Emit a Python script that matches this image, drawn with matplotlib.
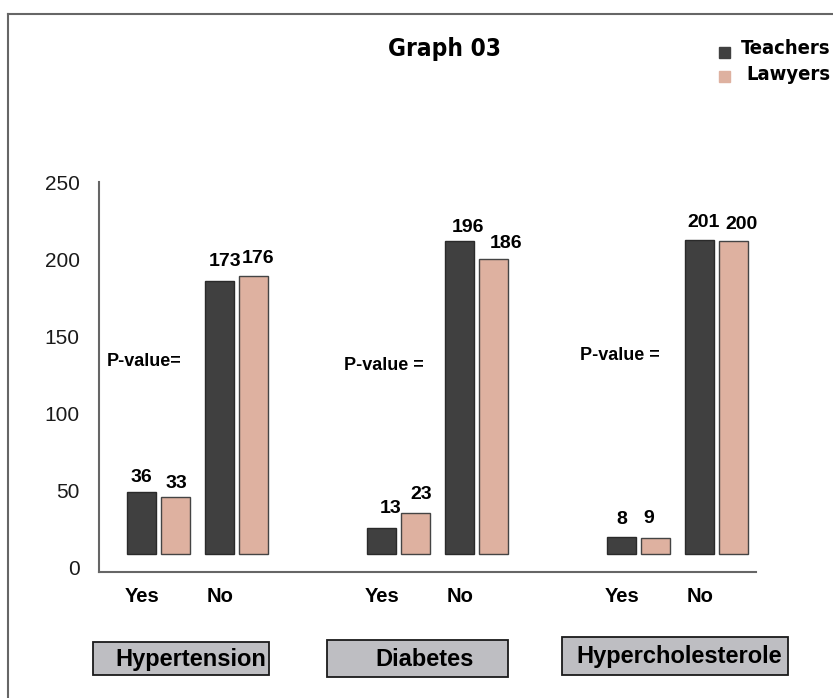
import matplotlib
matplotlib.use('Agg')
import matplotlib.pyplot as plt
from matplotlib.patches import Rectangle
from matplotlib.lines import Line2D
import numpy as np

W, H = 833, 698

groups = ['Hypertension', 'Diabetes', 'Hypercholesterole']
answers = ['Yes', 'No']
series = ['Teachers', 'Lawyers']
# order: Hyp yes, Hyp no, Dia yes, Dia no, Chol yes, Chol no
teachers_labels = [36, 173, 13, 196, 8, 201]
lawyers_labels = [33, 176, 23, 186, 9, 200]
# bar tops as they are drawn in the picture (bars start a bit above 0)
teachers_tops = [48.9, 186.2, 25.4, 212.2, 19.6, 212.9]
lawyers_tops = [45.6, 189.4, 35.2, 200.5, 18.9, 212.2]
bar_base = 8.5
p_values = ['P-value=', 'P-value =', 'P-value =']

col_teach = '#404040'
col_law = '#deb1a0'
plt.rcParams['font.family'] = ['Liberation Sans', 'DejaVu Sans']
# condensed face for title and legend
narrow = dict(family='DejaVu Sans', fontstretch='condensed', fontweight='bold')


def fx(x):
    return x / W


def fy(y):
    return 1 - y / H


fig = plt.figure(figsize=(W / 100, H / 100), dpi=100)
ax = fig.add_axes([fx(99), fy(572), fx(756) - fx(99), fy(182) - fy(572)])

# bar positions: 3 groups, Yes/No slot in each, pair of bars per slot
slots = np.array([[g - 0.1625, g + 0.1625] for g in range(len(groups))]).ravel()
x_t = slots - 0.0695
x_l = slots + 0.0695
bw = 0.121

h_t = np.array(teachers_tops) - bar_base
h_l = np.array(lawyers_tops) - bar_base
ax.bar(x_t, h_t, bw, bottom=bar_base, color=col_teach, edgecolor='#2a2a2a', linewidth=1)
ax.bar(x_l, h_l, bw, bottom=bar_base, color=col_law, edgecolor='#444444', linewidth=1)

# value labels, nudged like the original
dx_t = [0, 5.5, 9, 8.5, 0, 4]
dy_t = [14, 19, 20, 14, 17, 17]
dx_l = [1.5, 5, 6.5, 12.5, -6.5, 8]
dy_l = [14, 18, 18, 15, 20, 17]
for i in range(len(slots)):
    ax.annotate(str(teachers_labels[i]), (x_t[i], teachers_tops[i]),
                xytext=(dx_t[i], dy_t[i]), textcoords='offset pixels',
                ha='center', va='center', fontsize=14, fontweight='bold')
    ax.annotate(str(lawyers_labels[i]), (x_l[i], lawyers_tops[i]),
                xytext=(dx_l[i], dy_l[i]), textcoords='offset pixels',
                ha='center', va='center', fontsize=14, fontweight='bold')

# Yes / No under the teacher bars
for i, x in enumerate(x_t):
    ax.text(x, -0.064, answers[i % 2], transform=ax.get_xaxis_transform(),
            ha='center', va='center', fontsize=14.5, fontweight='bold')

ax.set_xlim(-0.41, 2.327)
ax.set_ylim(-3.2, 250.6)
ax.set_yticks([0, 50, 100, 150, 200, 250])
ax.set_xticks([])
ax.tick_params(axis='y', length=0, pad=14, labelsize=15, labelcolor='#1a1a1a')
for s in ['top', 'right']:
    ax.spines[s].set_visible(False)
for s in ['left', 'bottom']:
    ax.spines[s].set_color('#666666')
    ax.spines[s].set_linewidth(1.5)

# P-value notes
p_pos = [(107, 362), (344, 366), (580, 356)]
for txt, (px, py) in zip(p_values, p_pos):
    fig.text(fx(px), fy(py), txt, ha='left', va='center', fontsize=13, fontweight='bold')

# title
fig.text(fx(445), fy(49), 'Graph 03', ha='center', va='center', fontsize=17.5, **narrow)

# legend drawn by hand
leg_sq = [(719, 47), (719, 71)]
leg_txt = [(741, 49), (746, 75)]
for name, c, (sx, sy), (tx, ty) in zip(series, [col_teach, col_law], leg_sq, leg_txt):
    fig.patches.append(Rectangle((fx(sx), fy(sy + 11)), 11 / W, 11 / H, color=c,
                                 transform=fig.transFigure))
    fig.text(fx(tx), fy(ty), name, ha='left', va='center', fontsize=14.5, **narrow)

# category boxes under the groups
boxes = [(93, 642, 269, 675), (327, 640, 508, 677), (562, 637, 788, 675)]
text_x = [115, 375, 576]
for name, (x0, y0, x1, y1), tx in zip(groups, boxes, text_x):
    fig.patches.append(Rectangle((fx(x0), fy(y1)), (x1 - x0) / W, (y1 - y0) / H,
                                 facecolor='#bebec2', edgecolor='#1a1a1a', linewidth=1.3,
                                 transform=fig.transFigure))
    fig.text(fx(tx), fy((y0 + y1) / 2 + 1), name, ha='left', va='center',
             fontsize=17, fontweight='bold')

# outer frame (left and top only)
fig.lines.append(Line2D([fx(8), fx(8)], [fy(14), 0], color='#666666', linewidth=1.5,
                        transform=fig.transFigure))
fig.lines.append(Line2D([fx(8), 1], [fy(14), fy(14)], color='#666666', linewidth=1.5,
                        transform=fig.transFigure))

fig.savefig('out.png', dpi=100)
